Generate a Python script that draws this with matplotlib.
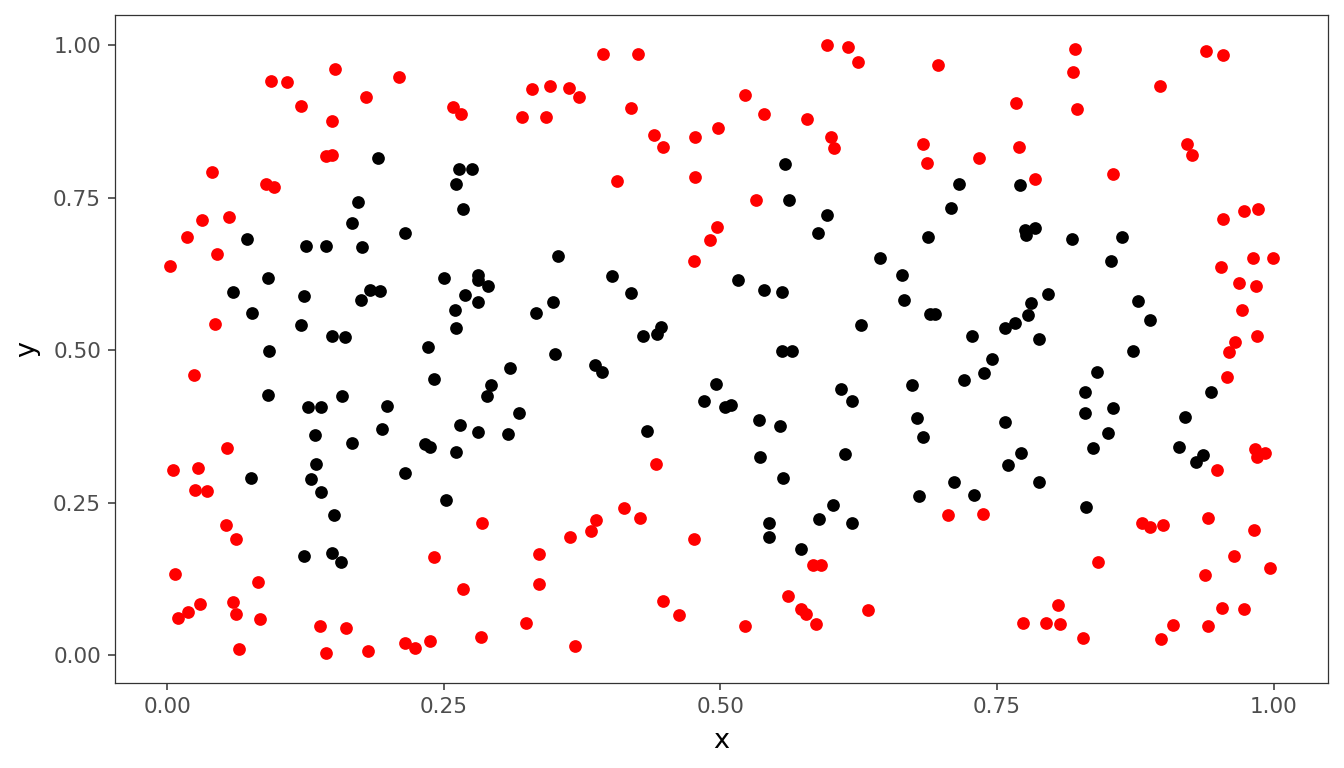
import matplotlib
matplotlib.use("Agg")
import matplotlib.pyplot as plt

# red points (outer)
red_x = [0.152, 0.094, 0.108, 0.210, 0.180, 0.121, 0.149, 0.258, 0.266, 0.144,
         0.149, 0.041, 0.089, 0.097, 0.032, 0.056, 0.018, 0.045, 0.003, 0.043,
         0.024, 0.054, 0.005, 0.028, 0.025, 0.036, 0.053, 0.062, 0.285, 0.241,
         0.007, 0.082, 0.267, 0.030, 0.019, 0.010, 0.060, 0.062, 0.084, 0.138,
         0.162, 0.284, 0.065, 0.144, 0.182, 0.215, 0.224, 0.238,
         0.394, 0.426, 0.596, 0.615, 0.624, 0.330, 0.346, 0.363, 0.372, 0.522,
         0.321, 0.342, 0.419, 0.539, 0.578, 0.440, 0.448, 0.477, 0.498, 0.600,
         0.603, 0.407, 0.477, 0.532, 0.497, 0.491, 0.476,
         0.442, 0.413, 0.427, 0.388, 0.383, 0.364, 0.476, 0.336, 0.336, 0.324,
         0.369, 0.448, 0.463, 0.522, 0.584, 0.591, 0.561, 0.573, 0.577, 0.586,
         0.633,
         0.697, 0.820, 0.819, 0.822, 0.767, 0.897, 0.939, 0.954, 0.683, 0.687,
         0.734, 0.770, 0.784, 0.855, 0.922, 0.926, 0.954, 0.973, 0.986, 0.952,
         0.981, 0.999, 0.969, 0.984, 0.971, 0.985, 0.965, 0.960,
         0.958, 0.949, 0.983, 0.992, 0.985, 0.706, 0.737, 0.881, 0.888, 0.900,
         0.941, 0.982, 0.841, 0.964, 0.938, 0.997, 0.805, 0.773, 0.794, 0.807,
         0.828, 0.909, 0.898, 0.941, 0.953, 0.973]
red_y = [0.962, 0.941, 0.940, 0.949, 0.915, 0.900, 0.876, 0.899, 0.887, 0.818,
         0.820, 0.793, 0.773, 0.767, 0.713, 0.719, 0.686, 0.658, 0.639, 0.543,
         0.459, 0.339, 0.303, 0.306, 0.270, 0.269, 0.213, 0.191, 0.216, 0.161,
         0.133, 0.119, 0.109, 0.083, 0.070, 0.061, 0.087, 0.068, 0.059, 0.048,
         0.044, 0.030, 0.009, 0.003, 0.007, 0.019, 0.011, 0.023,
         0.986, 0.986, 1.000, 0.997, 0.973, 0.928, 0.934, 0.931, 0.915, 0.918,
         0.883, 0.882, 0.897, 0.888, 0.879, 0.853, 0.834, 0.850, 0.865, 0.850,
         0.831, 0.777, 0.784, 0.747, 0.702, 0.681, 0.646,
         0.314, 0.241, 0.225, 0.222, 0.203, 0.193, 0.191, 0.165, 0.117, 0.053,
         0.015, 0.089, 0.065, 0.048, 0.147, 0.147, 0.097, 0.075, 0.067, 0.050,
         0.073,
         0.968, 0.995, 0.956, 0.896, 0.905, 0.934, 0.991, 0.985, 0.838, 0.807,
         0.815, 0.833, 0.781, 0.789, 0.838, 0.821, 0.715, 0.728, 0.732, 0.637,
         0.652, 0.651, 0.611, 0.605, 0.566, 0.523, 0.514, 0.497,
         0.456, 0.303, 0.338, 0.332, 0.325, 0.230, 0.231, 0.216, 0.210, 0.213,
         0.225, 0.205, 0.153, 0.162, 0.131, 0.143, 0.082, 0.053, 0.052, 0.051,
         0.028, 0.049, 0.026, 0.048, 0.077, 0.075]

# black points (inner)
black_x = [0.191, 0.264, 0.276, 0.261, 0.173, 0.267, 0.167, 0.215, 0.072, 0.126,
           0.144, 0.176, 0.091, 0.250, 0.281, 0.281, 0.290, 0.060, 0.124, 0.183,
           0.192, 0.175, 0.269, 0.281, 0.260, 0.077, 0.121, 0.261, 0.149, 0.161,
           0.236, 0.092,
           0.310, 0.241, 0.293, 0.289, 0.318, 0.091, 0.127, 0.139, 0.158, 0.199,
           0.134, 0.167, 0.194, 0.265, 0.281, 0.308, 0.233, 0.238, 0.261, 0.135,
           0.076, 0.130, 0.139, 0.215, 0.252, 0.151, 0.124, 0.149, 0.157,
           0.558, 0.562, 0.596, 0.588, 0.353, 0.402, 0.419, 0.349, 0.333, 0.516,
           0.539, 0.556, 0.644, 0.664, 0.666, 0.627, 0.430, 0.443, 0.446, 0.351,
           0.556, 0.565,
           0.387, 0.393, 0.434, 0.496, 0.485, 0.504, 0.510, 0.535, 0.554, 0.609,
           0.619, 0.673, 0.536, 0.613, 0.557, 0.602, 0.589, 0.619, 0.544, 0.544,
           0.573,
           0.716, 0.771, 0.708, 0.688, 0.775, 0.776, 0.784, 0.818, 0.863, 0.853,
           0.796, 0.781, 0.778, 0.766, 0.757, 0.788, 0.689, 0.694, 0.727, 0.877,
           0.888, 0.873,
           0.745, 0.738, 0.720, 0.678, 0.683, 0.757, 0.772, 0.760, 0.711, 0.729,
           0.679, 0.788, 0.840, 0.829, 0.829, 0.855, 0.850, 0.837, 0.830, 0.943,
           0.920, 0.914, 0.936, 0.930]
black_y = [0.815, 0.797, 0.797, 0.772, 0.744, 0.732, 0.708, 0.692, 0.682, 0.671,
           0.671, 0.670, 0.618, 0.619, 0.624, 0.616, 0.605, 0.596, 0.589, 0.598,
           0.597, 0.582, 0.590, 0.579, 0.566, 0.561, 0.542, 0.537, 0.523, 0.521,
           0.506, 0.498,
           0.471, 0.452, 0.443, 0.425, 0.397, 0.427, 0.407, 0.407, 0.425, 0.409,
           0.361, 0.348, 0.371, 0.377, 0.366, 0.362, 0.346, 0.341, 0.333, 0.313,
           0.290, 0.289, 0.267, 0.298, 0.254, 0.230, 0.163, 0.168, 0.153,
           0.806, 0.746, 0.722, 0.692, 0.654, 0.622, 0.594, 0.579, 0.561, 0.616,
           0.598, 0.596, 0.651, 0.623, 0.582, 0.542, 0.523, 0.526, 0.538, 0.493,
           0.499, 0.499,
           0.475, 0.464, 0.368, 0.445, 0.417, 0.407, 0.410, 0.386, 0.376, 0.437,
           0.417, 0.443, 0.325, 0.329, 0.290, 0.246, 0.223, 0.217, 0.216, 0.193,
           0.174,
           0.773, 0.771, 0.734, 0.685, 0.697, 0.689, 0.700, 0.682, 0.686, 0.646,
           0.593, 0.578, 0.557, 0.544, 0.536, 0.518, 0.560, 0.559, 0.523, 0.580,
           0.549, 0.499,
           0.486, 0.463, 0.451, 0.389, 0.358, 0.382, 0.331, 0.311, 0.283, 0.263,
           0.261, 0.283, 0.465, 0.432, 0.397, 0.406, 0.364, 0.340, 0.243, 0.432,
           0.391, 0.341, 0.328, 0.316]

ticks = [0.00, 0.25, 0.50, 0.75, 1.00]
tick_labels = ["0.00", "0.25", "0.50", "0.75", "1.00"]


def main():
    fig = plt.figure(figsize=(13.44, 7.68), dpi=100)
    ax = fig.add_axes([115 / 1344, 85 / 768, 1213 / 1344, 668 / 768])

    ax.scatter(black_x, black_y, s=84, c="black", linewidths=0, zorder=3)
    ax.scatter(red_x, red_y, s=84, c="red", linewidths=0, zorder=3)

    ax.set_xlim(-0.047, 1.049)
    ax.set_ylim(-0.046, 1.05)
    ax.set_xticks(ticks)
    ax.set_xticklabels(tick_labels)
    ax.set_yticks(ticks)
    ax.set_yticklabels(tick_labels)

    for sp in ax.spines.values():
        sp.set_color("#333333")
        sp.set_linewidth(0.9)
    ax.tick_params(length=5, width=1.1, color="#333333", labelcolor="#4D4D4D",
                   labelsize=15.5, pad=5)
    ax.set_xlabel("x", fontsize=19.5, labelpad=8)
    ax.set_ylabel("y", fontsize=19.5, labelpad=9)

    fig.savefig("out.png", dpi=100)


if __name__ == "__main__":
    main()
